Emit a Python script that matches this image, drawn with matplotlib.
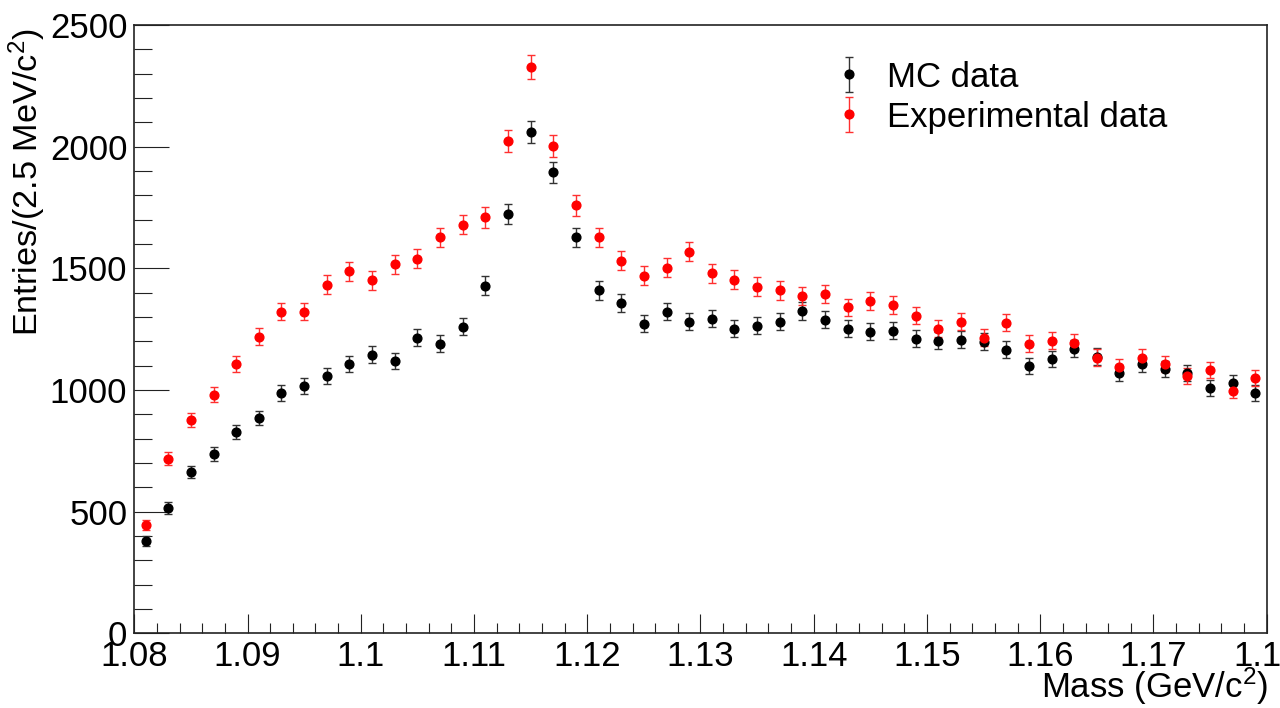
import numpy as np
import matplotlib as mpl
mpl.use('Agg')
import matplotlib.pyplot as plt
from matplotlib.ticker import MultipleLocator, FormatStrFormatter

plt.rcParams['font.family'] = ['Liberation Sans', 'DejaVu Sans']
plt.rcParams['mathtext.fontset'] = 'custom'
plt.rcParams['mathtext.rm'] = 'Liberation Sans'
plt.rcParams['mathtext.it'] = 'Liberation Sans:italic'

# bin centres (GeV/c^2)
mass = np.arange(1.081, 1.1795, 0.002)

mc_counts = [379, 515, 663, 737, 828, 885, 988, 1017, 1058, 1108,
             1145, 1120, 1215, 1190, 1260, 1429, 1722, 2059, 1895, 1627,
             1409, 1359, 1273, 1322, 1281, 1293, 1252, 1264, 1281, 1326,
             1289, 1252, 1240, 1244, 1211, 1203, 1207, 1199, 1166, 1100,
             1128, 1170, 1137, 1071, 1108, 1087, 1071, 1009, 1030, 988]

exp_counts = [445, 717, 877, 980, 1108, 1219, 1322, 1322, 1433, 1487,
              1450, 1516, 1540, 1627, 1680, 1709, 2022, 2327, 2002, 1759,
              1627, 1532, 1470, 1503, 1569, 1479, 1454, 1425, 1409, 1388,
              1396, 1339, 1367, 1351, 1306, 1252, 1281, 1215, 1277, 1190,
              1203, 1194, 1133, 1096, 1133, 1108, 1058, 1083, 997, 1050]

# Poisson errors on the counts
mc_err = np.sqrt(mc_counts)
exp_err = np.sqrt(exp_counts)

fig = plt.figure(figsize=(12.8, 7.08), dpi=100)
ax = fig.add_axes([0.1049, 0.1055, 0.8847, 0.8592])

ax.errorbar(mass, mc_counts, yerr=mc_err, fmt='o', color='black', ecolor='#333333',
            markersize=6.3, elinewidth=1, capsize=3, capthick=1, label='MC data')
ax.errorbar(mass, exp_counts, yerr=exp_err, fmt='o', color='red', ecolor='#ff3030',
            markersize=6.3, elinewidth=1, capsize=3, capthick=1, label='Experimental data')

ax.set_xlim(1.08, 1.18)
ax.set_ylim(0, 2500)

ax.xaxis.set_major_locator(MultipleLocator(0.01))
ax.xaxis.set_minor_locator(MultipleLocator(0.002))
ax.xaxis.set_major_formatter(FormatStrFormatter('%g'))
ax.yaxis.set_major_locator(MultipleLocator(500))
ax.yaxis.set_minor_locator(MultipleLocator(100))

ax.tick_params(axis='both', which='both', direction='in', top=False, right=False,
               width=0.8, color='#222222', labelsize=25)
ax.tick_params(axis='y', which='major', length=25, pad=5)
ax.tick_params(axis='y', which='minor', length=13)
ax.tick_params(axis='x', which='major', length=13.7, pad=5)
ax.tick_params(axis='x', which='minor', length=7.2)

for s in ax.spines.values():
    s.set_linewidth(1.2)
    s.set_color('#222222')

# axis titles placed ROOT-style (right / top aligned)
fig.text(1268 / 1280, 1 / 708, 'Mass (GeV/c$^{2}$)', fontsize=25, ha='right', va='bottom')
fig.text(27 / 1280, 1 - 28 / 708, 'Entries/(2.5 MeV/c$^{2}$)', fontsize=24.7,
         rotation=90, ha='center', va='top')

ax.legend(loc='upper left', bbox_to_anchor=(0.639, 0.934), bbox_transform=fig.transFigure,
          frameon=False, fontsize=25, handlelength=1.0, handletextpad=0.6,
          labelspacing=0.2, borderaxespad=0)

fig.savefig('out.png', dpi=100)
